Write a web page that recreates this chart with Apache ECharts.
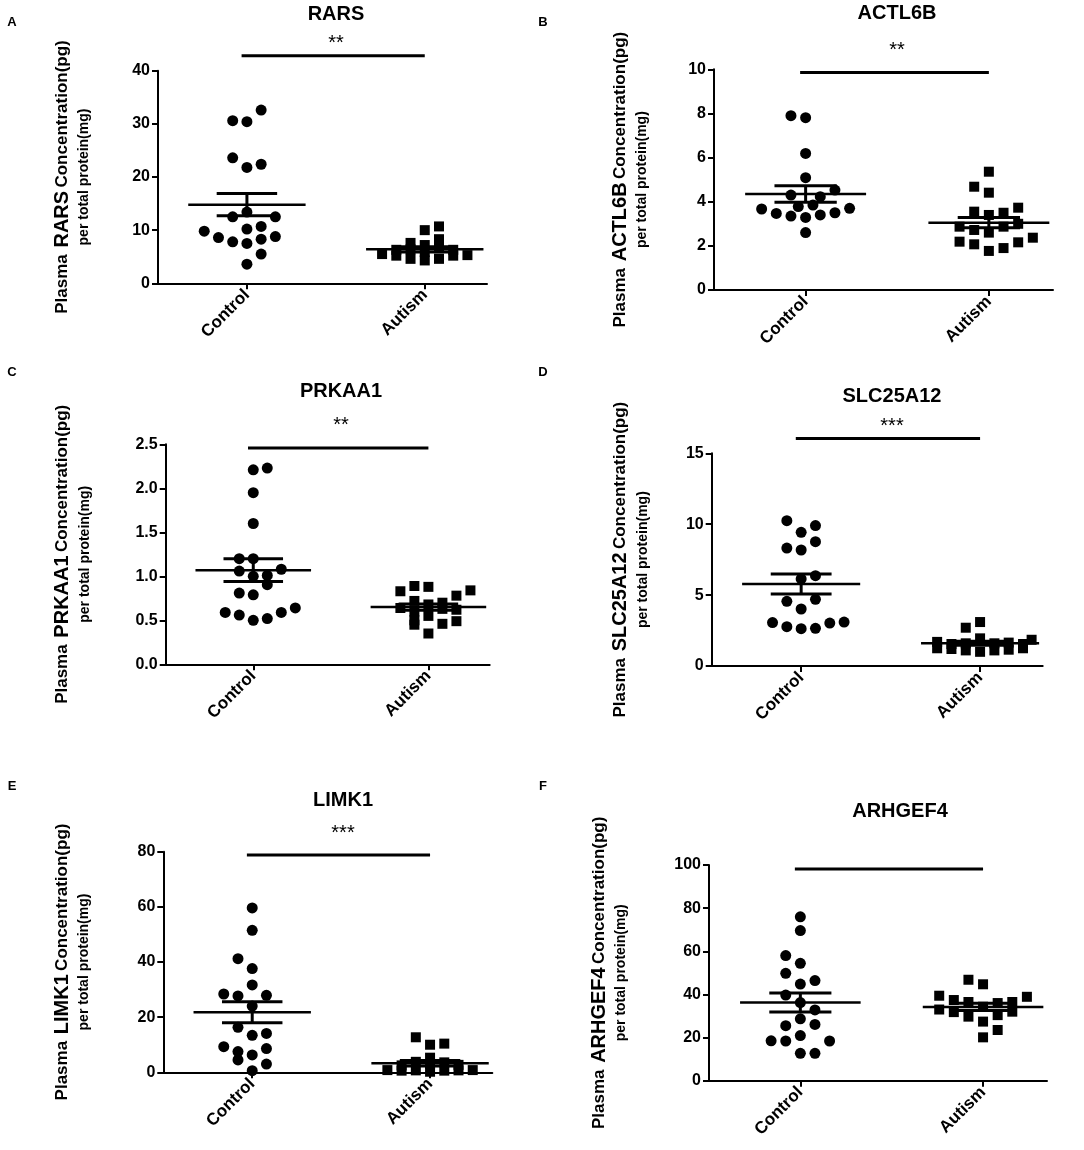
<!DOCTYPE html>
<html><head><meta charset="utf-8">
<script src="https://cdn.jsdelivr.net/npm/echarts@6/dist/echarts.min.js"></script>
<style>html,body{margin:0;padding:0;background:#fff}#c{width:1084px;height:1150px}</style>
</head><body><div id="c"></div><script>
// ---------- data ----------
const groups = ['Control', 'Autism'];
const genes = ['RARS', 'ACTL6B', 'PRKAA1', 'SLC25A12', 'LIMK1', 'ARHGEF4'];
const panelLetters = ['A', 'B', 'C', 'D', 'E', 'F'];
const yMax = [40, 10, 2.5, 15, 80, 100];
const yStep = [10, 2, 0.5, 5, 20, 20];
const yDecimals = [0, 0, 1, 0, 0, 0];
const stars = ['**', '**', '**', '***', '***', ''];
const sigLevel = [42.8, 9.86, 2.458, 16.04, 78.8, 98.1];

const rarsControl = [32.6, 30.6, 30.4, 23.6, 22.4, 21.8, 13.4, 12.5, 12.5, 9.8, 10.7, 10.2, 8.6, 8.8, 7.8, 7.5, 8.3, 5.5, 3.6];
const rarsControlCol = [1, -1, 0, -1, 1, 0, 0, -1, 2, -3, 1, 0, -2, 2, -1, 0, 1, 1, 0];
const rarsAutism = [10.7, 10.0, 8.3, 7.6, 7.2, 6.3, 6.4, 6.6, 6.3, 5.5, 5.2, 4.6, 4.3, 4.6, 5.2, 5.3, 5.9];
const rarsAutismCol = [1, 0, 1, -1, 0, -2, -1, 1, 2, -3, -2, -1, 0, 1, 2, 3, 0];

const actl6bControl = [7.9, 7.81, 6.19, 5.09, 4.53, 4.3, 4.23, 3.78, 3.85, 3.67, 3.7, 3.47, 3.5, 3.35, 3.4, 3.29, 2.6];
const actl6bControlCol = [-1, 0, 0, 0, 2, -1, 1, -0.5, 0.5, -3, 3, -2, 2, -1, 1, 0, 0];
const actl6bAutism = [5.36, 4.68, 4.41, 3.73, 3.55, 3.4, 3.5, 3.0, 2.87, 2.72, 2.6, 2.87, 2.37, 2.19, 2.16, 2.07, 1.9, 1.77];
const actl6bAutismCol = [0, -1, 0, 2, -1, 0, 1, 2, -2, -1, 0, 1, 3, -2, 2, -1, 1, 0];

const prkaa1Control = [2.23, 2.21, 1.95, 1.6, 1.2, 1.2, 1.06, 1.08, 1.0, 1.01, 0.905, 0.81, 0.79, 0.59, 0.56, 0.5, 0.52, 0.59, 0.64];
const prkaa1ControlCol = [1, 0, 0, 0, -1, 0, -1, 2, 0, 1, 1, -1, 0, -2, -1, 0, 1, 2, 3];
const prkaa1Autism = [0.83, 0.89, 0.88, 0.78, 0.84, 0.72, 0.7, 0.68, 0.64, 0.62, 0.55, 0.5, 0.45, 0.46, 0.49, 0.35, 0.6, 0.63];
const prkaa1AutismCol = [-2, -1, 0, 2, 3, -1, 1, 0, -2, 2, 0, -1, -1, 1, 2, 0, -1, 1];

const slc25a12Control = [10.25, 9.9, 9.43, 8.77, 8.32, 8.18, 6.37, 6.14, 4.56, 4.7, 4.02, 3.06, 2.77, 2.63, 2.66, 3.03, 3.1];
const slc25a12ControlCol = [-1, 1, 0, 1, -1, 0, 1, 0, -1, 1, 0, -2, -1, 0, 1, 2, 3];
const slc25a12Autism = [3.1, 2.7, 1.95, 1.85, 1.7, 1.55, 1.6, 1.6, 1.65, 1.55, 1.25, 1.2, 1.1, 1.0, 1.1, 1.15, 1.25];
const slc25a12AutismCol = [0, -1, 0, 3.6, -3, -2, -1, 1, 2, 3, -3, -2, -1, 0, 1, 2, 3];

const limk1Control = [59.6, 51.5, 41.2, 37.6, 31.7, 28.4, 27.7, 27.9, 24, 16.3, 14.1, 13.4, 9.3, 8.6, 7.5, 6.3, 4.5, 3.0, 0.6];
const limk1ControlCol = [0, 0, -1, 0, 0, -2, -1, 1, 0, -1, 1, 0, -2, 1, -1, 0, -1, 1, 0];
const limk1Autism = [12.7, 10.0, 10.4, 5.3, 3.8, 3.6, 2.7, 2.5, 3.0, 0.8, 0.6, 0.7, 0.2, 0.6, 0.7, 0.8];
const limk1AutismCol = [-1, 0, 1, 0, -1, 1, 2, -2, 0, -3, -2, -1, 0, 1, 2, 3];

const arhgef4Control = [76, 69.6, 58, 54.4, 49.8, 46.4, 44.8, 39.7, 36.2, 32.8, 28.7, 25.5, 26.1, 20.9, 18.5, 18.4, 18.4, 12.7, 12.7];
const arhgef4ControlCol = [0, 0, -1, 0, -1, 1, 0, -1, 0, 1, 0, -1, 1, 0, -2, -1, 2, 0, 1];
const arhgef4Autism = [46.8, 44.7, 39.4, 38.9, 37.4, 36.5, 36, 36.5, 34.3, 33, 31.8, 32, 29.7, 30.4, 27.4, 23.5, 20.1];
const arhgef4AutismCol = [-1, 0, -3, 3, -2, -1, 1, 2, 0, -3, -2, 2, -1, 1, 0, 1, 0];

// group means and SEM as drawn
const meanValues = [[14.8, 6.4], [4.35, 3.05], [1.07, 0.65], [5.78, 1.6], [21.75, 3.25], [36.3, 34.2]];
const semValues = [[2.1, 0.5], [0.37, 0.23], [0.13, 0.035], [0.7, 0.14], [3.8, 1.0], [4.4, 1.7]];

const controlSets = [rarsControl, actl6bControl, prkaa1Control, slc25a12Control, limk1Control, arhgef4Control];
const controlCols = [rarsControlCol, actl6bControlCol, prkaa1ControlCol, slc25a12ControlCol, limk1ControlCol, arhgef4ControlCol];
const autismSets = [rarsAutism, actl6bAutism, prkaa1Autism, slc25a12Autism, limk1Autism, arhgef4Autism];
const autismCols = [rarsAutismCol, actl6bAutismCol, prkaa1AutismCol, slc25a12AutismCol, limk1AutismCol, arhgef4AutismCol];

// ---------- layout / style ----------
const FONT = "'Liberation Sans', Arial, sans-serif";
const grids = [
  {left: 158, top: 70.7, width: 329, height: 212.6},
  {left: 714, top: 69.3, width: 339, height: 220.7},
  {left: 165.7, top: 444.3, width: 324, height: 220},
  {left: 711.7, top: 453.3, width: 331, height: 212.7},
  {left: 163.3, top: 851.7, width: 329, height: 220.6},
  {left: 709, top: 865, width: 338, height: 215.7}
];
const nameGaps = [63, 61, 70, 58, 68, 77];
const titlePos = [[336, 14], [897, 13], [341, 391], [892, 396], [343, 800], [900, 811]];
const starPos = [[336, 43], [897, 50], [341, 425], [892, 426], [343, 833], [0, 0]];
const letterPos = [[12, 22], [543, 22], [12, 372], [543, 372], [12, 786], [543, 786]];
const slotStep = 0.08;
const xMin = 0.5, xMax = 2.35;

const option = {
  animation: false,
  backgroundColor: '#fff',
  grid: grids.map(g => Object.assign({containLabel: false}, g)),
  xAxis: grids.map((g, i) => ({
    type: 'value', gridIndex: i, min: xMin, max: xMax,
    axisLine: {show: true, onZero: false, lineStyle: {color: '#000', width: 2}},
    axisTick: {show: true, customValues: [1, 2], length: 6, lineStyle: {color: '#000', width: 2}},
    axisLabel: {
      customValues: [1, 2], rotate: 45, margin: 9, color: '#000',
      fontFamily: FONT, fontWeight: 'bold', fontSize: 17,
      formatter: v => groups[Math.round(v) - 1]
    },
    splitLine: {show: false}
  })),
  yAxis: grids.map((g, i) => ({
    type: 'value', gridIndex: i, min: 0, max: yMax[i], interval: yStep[i],
    axisLine: {show: true, lineStyle: {color: '#000', width: 2}},
    axisTick: {show: true, length: 6, lineStyle: {color: '#000', width: 2}},
    axisLabel: {color: '#000', fontFamily: FONT, fontWeight: 'bold', fontSize: 16, margin: 8,
      formatter: v => v.toFixed(yDecimals[i])},
    splitLine: {show: false},
    name: '{p|Plasma}  {g|' + genes[i] + '} {c|Concentration(pg)}\n{l|per total protein(mg)}',
    nameLocation: 'middle', nameGap: nameGaps[i],
    nameTextStyle: {
      color: '#000', fontFamily: FONT, fontWeight: 'bold', lineHeight: 22,
      rich: {
        p: {fontFamily: FONT, fontWeight: 'bold', fontSize: 17, lineHeight: 22, color: '#000'},
        g: {fontFamily: FONT, fontWeight: 'bold', fontSize: 20, lineHeight: 22, color: '#000'},
        c: {fontFamily: FONT, fontWeight: 'bold', fontSize: 17, lineHeight: 22, color: '#000'},
        l: {fontFamily: FONT, fontWeight: 'bold', fontSize: 14, lineHeight: 22, color: '#000'}
      }
    }
  })),
  graphic: [],
  series: []
};

for (let i = 0; i < 6; i++) {
  option.series.push({
    type: 'scatter', xAxisIndex: i, yAxisIndex: i, symbol: 'circle', symbolSize: 11,
    itemStyle: {color: '#000', opacity: 1},
    data: controlSets[i].map((v, k) => [1 + controlCols[i][k] * slotStep, v])
  });
  option.series.push({
    type: 'scatter', xAxisIndex: i, yAxisIndex: i, symbol: 'rect', symbolSize: 10,
    itemStyle: {color: '#000', opacity: 1},
    data: autismSets[i].map((v, k) => [2 + autismCols[i][k] * slotStep, v])
  });
  option.series.push({
    type: 'custom', xAxisIndex: i, yAxisIndex: i, z: 5,
    encode: {x: 0, y: 1},
    data: groups.map((g, k) => [k + 1, meanValues[i][k], semValues[i][k]]),
    renderItem: (params, api) => {
      const x = api.value(0), m = api.value(1), s = api.value(2);
      const seg = (x1, y1, x2, y2, w) => {
        const a = api.coord([x1, y1]), b = api.coord([x2, y2]);
        return {type: 'line', shape: {x1: a[0], y1: a[1], x2: b[0], y2: b[1]},
          style: {stroke: '#000', lineWidth: w}};
      };
      return {type: 'group', children: [
        seg(x - 0.33, m, x + 0.33, m, 2.5),
        seg(x - 0.17, m + s, x + 0.17, m + s, 3),
        seg(x - 0.17, m - s, x + 0.17, m - s, 3),
        seg(x, m - s, x, m + s, 3)
      ]};
    }
  });
  option.series.push({
    type: 'line', xAxisIndex: i, yAxisIndex: i, clip: false, symbol: 'none',
    lineStyle: {color: '#000', width: 3}, silent: true,
    data: [[0.97, sigLevel[i]], [2.0, sigLevel[i]]]
  });
  option.graphic.push({type: 'text', x: titlePos[i][0], y: titlePos[i][1],
    style: {text: genes[i], fill: '#000', font: 'bold 20px ' + FONT, textAlign: 'center', textVerticalAlign: 'middle'}});
  option.graphic.push({type: 'text', x: letterPos[i][0], y: letterPos[i][1],
    style: {text: panelLetters[i], fill: '#000', font: 'bold 13px ' + FONT, textAlign: 'center', textVerticalAlign: 'middle'}});
  if (stars[i]) {
    option.graphic.push({type: 'text', x: starPos[i][0], y: starPos[i][1],
      style: {text: stars[i], fill: '#000', font: '20px ' + FONT, textAlign: 'center', textVerticalAlign: 'middle'}});
  }
}

const chart = echarts.init(document.getElementById('c'), null, {renderer: 'canvas'});
chart.setOption(option);
</script></body></html>
